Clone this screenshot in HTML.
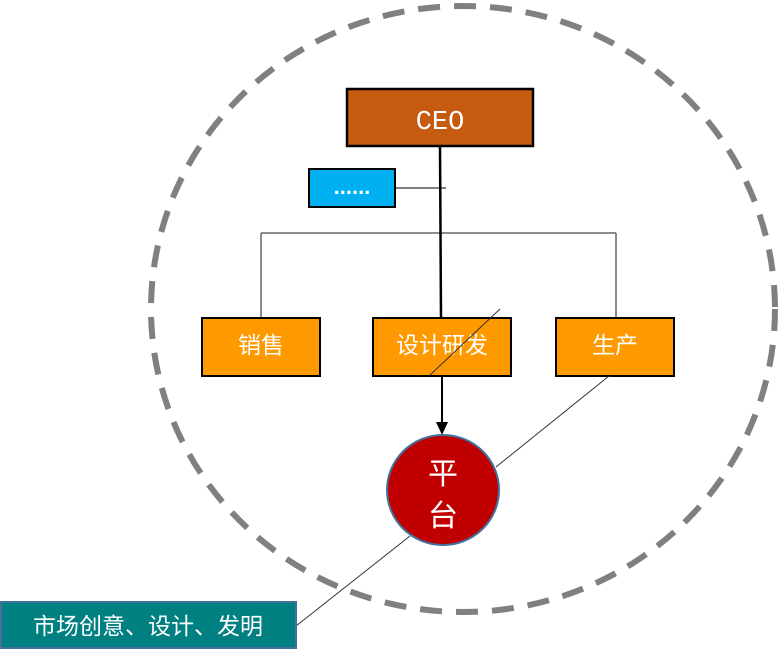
<!DOCTYPE html>
<html><head><meta charset="utf-8"><style>
body{margin:0;width:778px;height:657px;background:#fff;overflow:hidden;font-family:"Liberation Sans","Noto Sans CJK SC",sans-serif}
</style></head><body>
<svg width="778" height="657" viewBox="0 0 778 657" xmlns="http://www.w3.org/2000/svg" style="position:absolute;left:0;top:0">
<ellipse cx="463" cy="309" rx="312" ry="303" fill="none" stroke="#808080" stroke-width="6" stroke-dasharray="22,14"/>
<line x1="261" y1="233" x2="616" y2="233" stroke="#666" stroke-width="1.5"/>
<line x1="261" y1="233" x2="261" y2="318" stroke="#666" stroke-width="1.5"/>
<line x1="616" y1="233" x2="616" y2="318" stroke="#666" stroke-width="1.5"/>
<line x1="395" y1="188" x2="446" y2="188" stroke="#000" stroke-width="1"/>
<line x1="440" y1="146" x2="441" y2="318" stroke="#000" stroke-width="2.5"/>
<line x1="442" y1="376" x2="442" y2="424" stroke="#000" stroke-width="2"/>
<polygon points="436,422 448,422 442,435" fill="#000"/>
<rect x="347" y="89" width="186" height="57" fill="#c55a11" stroke="#000" stroke-width="2.5"/>
<text x="440" y="129" fill="#fff" font-size="27" text-anchor="middle" font-family="Liberation Mono, monospace">CEO</text>
<rect x="309" y="169" width="86" height="38" fill="#00b0f0" stroke="#000" stroke-width="2"/>
<text x="352" y="194" fill="#fff" font-size="22" font-weight="bold" text-anchor="middle">......</text>
<rect x="202" y="318" width="118" height="58" fill="#ff9900" stroke="#000" stroke-width="2"/>
<text x="261" y="353" fill="#fff" font-size="23" text-anchor="middle">销售</text>
<rect x="373" y="318" width="138" height="58" fill="#ff9900" stroke="#000" stroke-width="2"/>
<text x="442" y="353" fill="#fff" font-size="23" text-anchor="middle">设计研发</text>
<rect x="556" y="318" width="118" height="58" fill="#ff9900" stroke="#000" stroke-width="2"/>
<text x="615" y="353" fill="#fff" font-size="23" text-anchor="middle">生产</text>
<line x1="429" y1="376" x2="500" y2="309" stroke="#333" stroke-width="1"/>
<line x1="609" y1="376" x2="496" y2="467" stroke="#333" stroke-width="1"/>
<line x1="410" y1="536" x2="296" y2="626" stroke="#333" stroke-width="1"/>
<ellipse cx="443" cy="490" rx="56" ry="55" fill="#c00000" stroke="#41719c" stroke-width="2"/>
<text x="443" y="484" fill="#fff" font-size="30" text-anchor="middle">平</text>
<text x="443" y="526" fill="#fff" font-size="30" text-anchor="middle">台</text>
<rect x="1" y="602" width="295" height="46" fill="#008080" stroke="#41719c" stroke-width="2"/>
<text x="148" y="634" fill="#fff" font-size="23" text-anchor="middle">市场创意、设计、发明</text>
</svg>
</body></html>
